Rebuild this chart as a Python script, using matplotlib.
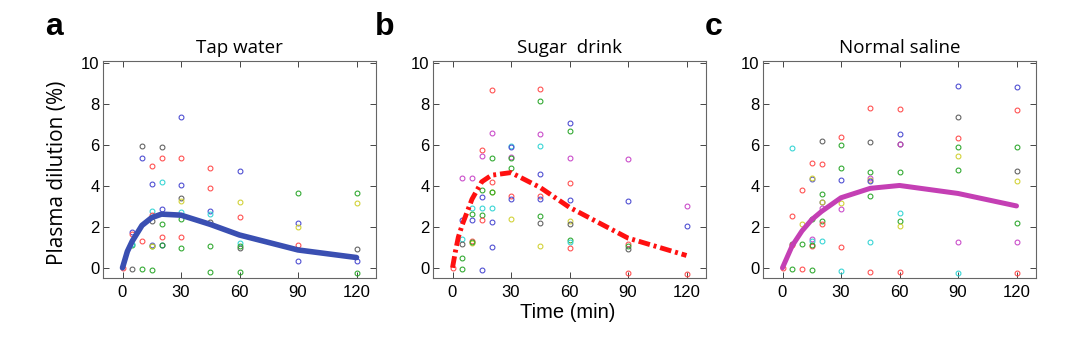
#plasma dilution plot
import matplotlib
matplotlib.use('Agg')
import matplotlib.pyplot as plt

# scatter points: time (min), plasma dilution (%), subject colour code
tap_t = [0, 5, 5, 5, 5, 5, 10, 10, 10, 10,
         15, 15, 15, 15, 15, 15, 15, 15, 15,
         20, 20, 20, 20, 20, 20, 20, 20,
         30, 30, 30, 30, 30, 30, 30, 30, 30,
         45, 45, 45, 45, 45, 45, 45,
         60, 60, 60, 60, 60, 60, 60,
         90, 90, 90, 90, 90,
         120, 120, 120, 120, 120]
tap_y = [0, 1.75, 1.65, 1.1, 1.15, -0.05, 5.97, 5.38, 1.3, -0.07,
         4.98, 4.08, 2.75, 2.6, 2.28, 1.05, 1.1, 1.05, -0.1,
         5.9, 5.38, 4.18, 2.85, 2.12, 1.52, 1.1, 1.1,
         7.35, 5.35, 4.02, 3.4, 3.25, 2.7, 2.4, 1.5, 0.98,
         4.88, 3.9, 2.78, 2.65, 2.22, 1.07, -0.2,
         4.73, 3.2, 2.5, 1.2, 0.98, 1.05, -0.2,
         3.63, 2.17, 2.0, 1.1, 0.33,
         3.64, 3.17, 0.92, 0.34, -0.26]
tap_s = ['r', 'b', 'r', 'g', 'c', 'k', 'k', 'b', 'r', 'g',
         'r', 'b', 'c', 'r', 'k', 'g', 'b', 'y', 'g',
         'k', 'r', 'c', 'b', 'g', 'r', 'b', 'g',
         'b', 'r', 'b', 'k', 'y', 'c', 'g', 'r', 'g',
         'r', 'r', 'b', 'c', 'k', 'g', 'g',
         'b', 'y', 'r', 'c', 'k', 'g', 'g',
         'g', 'b', 'y', 'r', 'b',
         'g', 'y', 'k', 'b', 'g']

sugar_t = [0, 5, 5, 5, 5, 5, 5,
           10, 10, 10, 10, 10, 10, 10,
           15, 15, 15, 15, 15, 15, 15, 15,
           20, 20, 20, 20, 20, 20, 20, 20, 20,
           30, 30, 30, 30, 30, 30, 30, 30,
           45, 45, 45, 45, 45, 45, 45, 45, 45, 45,
           60, 60, 60, 60, 60, 60, 60, 60, 60, 60,
           90, 90, 90, 90, 90, 90,
           120, 120, 120]
sugar_y = [0, 4.4, 2.33, 1.42, 1.15, 0.48, -0.05,
           4.38, 2.93, 2.65, 2.33, 1.32, 1.2, 1.28,
           5.75, 5.45, 3.78, 3.48, 2.92, 2.58, 2.35, -0.1,
           8.7, 6.58, 5.35, 4.2, 3.72, 3.7, 2.9, 2.25, 1.03,
           5.95, 5.88, 5.4, 5.35, 4.87, 3.52, 3.38, 2.37,
           8.72, 8.14, 6.53, 5.93, 4.57, 3.5, 3.38, 2.55, 2.17, 1.05,
           7.07, 6.67, 5.35, 4.12, 3.32, 2.3, 2.15, 1.38, 1.25, 0.97,
           5.32, 3.28, 1.15, 1.08, 0.9, -0.25,
           3.0, 2.04, -0.31]
sugar_s = ['r', 'm', 'b', 'c', 'k', 'g', 'g',
           'm', 'c', 'g', 'b', 'r', 'y', 'g',
           'r', 'm', 'g', 'b', 'c', 'g', 'r', 'b',
           'r', 'm', 'g', 'r', 'y', 'g', 'c', 'b', 'b',
           'c', 'b', 'm', 'g', 'g', 'r', 'b', 'y',
           'r', 'g', 'm', 'c', 'b', 'r', 'b', 'g', 'k', 'y',
           'b', 'g', 'm', 'r', 'b', 'y', 'k', 'g', 'c', 'r',
           'm', 'b', 'r', 'g', 'k', 'r',
           'm', 'b', 'r']

saline_t = [0, 5, 5, 5, 5, 5, 10, 10, 10, 10,
            15, 15, 15, 15, 15, 15, 15, 15, 15,
            20, 20, 20, 20, 20, 20, 20, 20, 20,
            30, 30, 30, 30, 30, 30, 30, 30,
            45, 45, 45, 45, 45, 45, 45, 45, 45,
            60, 60, 60, 60, 60, 60, 60, 60, 60,
            90, 90, 90, 90, 90, 90, 90, 90,
            120, 120, 120, 120, 120, 120, 120, 120]
saline_y = [0, 5.83, 2.54, 1.16, 1.1, -0.05, 3.81, 2.16, 1.15, -0.07,
            5.14, 4.36, 4.38, 2.39, 1.4, 1.3, 1.05, 1.1, -0.1,
            6.17, 5.09, 3.59, 3.21, 3.2, 2.92, 2.28, 2.15, 1.29,
            6.41, 5.99, 4.85, 4.3, 3.18, 2.89, 0.99, -0.18,
            7.79, 6.12, 4.67, 4.38, 4.3, 4.25, 3.52, 1.24, -0.2,
            7.75, 6.53, 6.07, 6.05, 4.67, 2.67, 2.28, 2.02, -0.2,
            8.87, 7.35, 6.33, 5.91, 5.44, 4.77, 1.28, -0.25,
            8.84, 7.69, 5.88, 4.73, 4.23, 2.2, 1.26, -0.28]
saline_s = ['r', 'c', 'r', 'k', 'r', 'g', 'r', 'y', 'g', 'r',
            'r', 'b', 'y', 'g', 'm', 'c', 'r', 'g', 'g',
            'k', 'r', 'g', 'b', 'y', 'm', 'g', 'r', 'c',
            'r', 'g', 'g', 'b', 'y', 'm', 'r', 'c',
            'r', 'k', 'g', 'm', 'y', 'b', 'g', 'c', 'r',
            'r', 'b', 'k', 'm', 'g', 'c', 'g', 'y', 'r',
            'b', 'k', 'r', 'g', 'y', 'g', 'm', 'c',
            'b', 'r', 'g', 'k', 'y', 'g', 'm', 'r']

# mean curves
tap_curve_t = [0, 2.5, 5, 10, 15, 20, 30, 45, 60, 90, 120]
tap_curve_y = [0, 0.8, 1.3, 2.07, 2.45, 2.62, 2.57, 2.12, 1.6, 0.87, 0.5]
sugar_curve_t = [0, 1.5, 3, 5, 10, 15, 20, 30, 45, 60, 90, 120]
sugar_curve_y = [0, 0.8, 1.5, 2.1, 3.35, 4.2, 4.52, 4.65, 3.92, 2.95, 1.45, 0.6]
saline_curve_t = [0, 5, 10, 15, 20, 30, 45, 60, 90, 120]
saline_curve_y = [0, 1.08, 1.8, 2.35, 2.75, 3.42, 3.88, 4.02, 3.63, 3.02]

titles = ['Tap water', 'Sugar  drink', 'Normal saline']
letters = ['a', 'b', 'c']
xticks = [0, 30, 60, 90, 120]
yticks = [0, 2, 4, 6, 8, 10]

colmap = {'r': '#ff4a4a', 'b': '#4848d0', 'g': '#2aa62a', 'c': '#30d4d4',
          'm': '#c846c8', 'y': '#d0d030', 'k': '#5c5c5c'}

fig = plt.figure(figsize=(10.8, 3.41), dpi=100)

lefts = [103, 433, 763]
panels = [(tap_t, tap_y, tap_s, tap_curve_t, tap_curve_y),
          (sugar_t, sugar_y, sugar_s, sugar_curve_t, sugar_curve_y),
          (saline_t, saline_y, saline_s, saline_curve_t, saline_curve_y)]

for i, (t, y, s, ct, cy) in enumerate(panels):
    ax = fig.add_axes([lefts[i] / 1080, 63 / 341, 273 / 1080, 217 / 341])
    for tt, yy, ss in zip(t, y, s):
        ax.plot(tt, yy, 'o', ms=3.5, mfc='none', mec=colmap[ss], mew=0.75, zorder=2)
    if i == 0:
        ax.plot(ct, cy, '-', color='#3a4fb2', lw=4, solid_capstyle='round', zorder=3)
    elif i == 1:
        ax.plot(ct, cy, '-.', color='#ff1010', lw=3.5, dashes=[2.4, 0.8, 0.6, 0.8], zorder=3)
    else:
        ax.plot(ct, cy, '-', color='#c43fb4', lw=3.6, solid_capstyle='round', zorder=3)

    ax.set_xlim(-10, 130)
    ax.set_ylim(-0.5, 10.1)
    ax.set_xticks(xticks)
    ax.set_yticks(yticks)
    ax.tick_params(direction='in', top=True, right=True, length=4, width=0.7,
                   color='#444444', labelsize=12)
    ax.tick_params(axis='x', pad=5)
    ax.tick_params(axis='y', pad=2.5)
    for lab in ax.get_xticklabels() + ax.get_yticklabels():
        lab.set_family('Liberation Sans')
    for sp in ax.spines.values():
        sp.set_color('#666666')
        sp.set_linewidth(0.8)
    ax.set_title(titles[i], fontsize=13.5, family='Open Sans', pad=6)
    fig.text((lefts[i] - 58) / 1080, 1 - 35 / 341, letters[i], fontsize=23,
             fontweight='bold', family='Liberation Sans', va='baseline')

fig.text(58 / 1080, 1 - 173 / 341, 'Plasma dilution (%)', rotation=90,
         fontsize=15, family='Open Sans', ha='center', va='center')
fig.text(568 / 1080, 1 - 313 / 341, 'Time (min)', fontsize=14.5,
         family='Liberation Sans', ha='center', va='center')

fig.savefig('out.png', dpi=100)
